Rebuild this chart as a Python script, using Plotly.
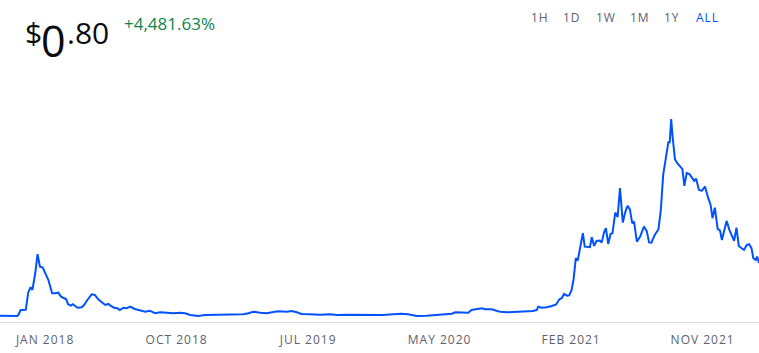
import pandas as pd
import plotly.graph_objects as go

# ---- data ----
start_date = "2017-10-11"
day_offsets = [
    0, 36, 39, 44, 50, 55, 60, 65, 69, 75, 80, 85, 91, 96, 103, 106, 111, 117, 124, 130,
    135, 141, 145, 151, 155, 160, 165, 174, 179, 186, 195, 202, 209, 217, 224, 231, 236, 243, 250, 255,
    263, 270, 277, 287, 298, 309, 319, 330, 341, 355, 369, 383, 394, 405, 422, 436, 461, 490, 518, 529,
    539, 554, 568, 582, 593, 610, 621, 632, 642, 660, 681, 703, 717, 738, 766, 788, 816, 837, 855, 869,
    887, 908, 930, 951, 962, 969, 983, 997, 1004, 1018, 1026, 1033, 1047, 1057, 1065, 1079, 1093, 1107, 1121, 1135,
    1143, 1146, 1153, 1164, 1175, 1184, 1191, 1196, 1201, 1207, 1212, 1217, 1221, 1226, 1230, 1235, 1241, 1245, 1253, 1256,
    1260, 1265, 1270, 1277, 1281, 1286, 1290, 1295, 1300, 1304, 1310, 1315, 1320, 1326, 1331, 1336, 1341, 1346, 1350, 1356,
    1363, 1371, 1377, 1382, 1387, 1394, 1402, 1407, 1412, 1418, 1423, 1426, 1429, 1432, 1437, 1442, 1449, 1453, 1457, 1462,
    1468, 1473, 1478, 1482, 1488, 1494, 1501, 1508, 1513, 1517, 1522, 1528, 1533, 1537, 1541, 1547, 1553, 1558, 1563, 1568,
    1573, 1579, 1584, 1590, 1595, 1600, 1604, 1609, 1612, 1616,
]
prices = [
    0.022, 0.018, 0.032, 0.106, 0.106, 0.111, 0.362, 0.442, 0.402, 0.648, 0.929, 0.746, 0.731, 0.657, 0.549, 0.476, 0.353, 0.353, 0.362, 0.303,
    0.288, 0.264, 0.191, 0.170, 0.191, 0.170, 0.140, 0.146, 0.180, 0.254, 0.338, 0.328, 0.264, 0.220, 0.180, 0.195, 0.165, 0.140, 0.131, 0.106,
    0.140, 0.131, 0.155, 0.121, 0.106, 0.081, 0.096, 0.058, 0.072, 0.066, 0.058, 0.066, 0.058, 0.032, 0.018, 0.032, 0.032, 0.032, 0.043, 0.058,
    0.081, 0.066, 0.058, 0.077, 0.087, 0.081, 0.092, 0.072, 0.047, 0.043, 0.037, 0.043, 0.032, 0.037, 0.032, 0.028, 0.032, 0.043, 0.052, 0.043,
    0.018, 0.022, 0.037, 0.047, 0.052, 0.072, 0.066, 0.066, 0.106, 0.117, 0.131, 0.117, 0.117, 0.096, 0.081, 0.072, 0.077, 0.081, 0.081, 0.092,
    0.106, 0.155, 0.140, 0.146, 0.165, 0.188, 0.264, 0.279, 0.343, 0.318, 0.323, 0.402, 0.549, 0.870, 0.835, 1.018, 1.239, 1.041, 1.032, 1.032,
    1.180, 1.052, 1.125, 1.130, 1.100, 1.248, 1.313, 1.081, 1.229, 1.239, 1.544, 1.476, 1.904, 1.396, 1.544, 1.643, 1.594, 1.387, 1.411, 1.115,
    1.189, 1.337, 1.270, 1.103, 1.100, 1.214, 1.298, 1.583, 2.100, 2.371, 2.583, 2.583, 2.923, 2.666, 2.332, 2.273, 2.223, 2.185, 1.938, 2.126,
    2.111, 2.066, 2.012, 2.046, 1.879, 1.864, 1.928, 1.756, 1.657, 1.461, 1.617, 1.303, 1.278, 1.140, 1.239, 1.421, 1.288, 1.199, 1.125, 1.322,
    1.052, 1.018, 0.993, 1.066, 1.077, 1.018, 0.870, 0.845, 0.894, 0.801,
]
tick_dates = ["2018-01-15", "2018-10-22", "2019-07-29", "2020-05-04", "2021-02-08", "2021-11-15"]
tick_labels = ["JAN 2018", "OCT 2018", "JUL 2019", "MAY 2020", "FEB 2021", "NOV 2021"]
range_buttons = ["1H", "1D", "1W", "1M", "1Y", "ALL"]
price_whole = "0"
price_cents = ".80"
change_text = "+4,481.63%"

dates = pd.to_datetime(start_date) + pd.to_timedelta(day_offsets, unit="D")

BLUE = "#0052ff"
GRAY = "#5b616e"
FONT = "Open Sans, Noto Sans, sans-serif"

fig = go.Figure()
fig.add_trace(go.Scatter(x=dates, y=prices, mode="lines",
                         line=dict(color=BLUE, width=2), hoverinfo="skip"))

W, H = 759, 353
top, bottom = 80, 31
ph = H - top - bottom

def py(p):
    return (H - bottom - p) / ph

annotations = [
    dict(text="$", x=23 / W, y=py(32.5), xanchor="left", yanchor="middle",
         font=dict(size=30, color="#0a0b0d", family=FONT)),
    dict(text=price_whole, x=39 / W, y=py(41), xanchor="left", yanchor="middle",
         font=dict(size=43, color="#0a0b0d", family=FONT)),
    dict(text=price_cents, x=65 / W, y=py(32.5), xanchor="left", yanchor="middle",
         font=dict(size=30, color="#0a0b0d", family=FONT)),
    dict(text=change_text, x=122 / W, y=py(23), xanchor="left", yanchor="middle",
         font=dict(size=17, color="#098551", family=FONT)),
]
btn_x = [540, 572, 606, 640, 672, 707.5]
for lbl, bx in zip(range_buttons, btn_x):
    annotations.append(dict(
        text=f"<span style='letter-spacing:1px'>{lbl}</span>", x=bx / W, y=py(18),
        xanchor="center", yanchor="middle",
        font=dict(size=12, color=BLUE if lbl == "ALL" else GRAY, family=FONT)))
for a in annotations:
    a.update(xref="paper", yref="paper", showarrow=False)

fig.update_layout(
    width=W, height=H,
    margin=dict(l=0, r=0, t=top, b=bottom),
    paper_bgcolor="white", plot_bgcolor="white",
    showlegend=False,
    annotations=annotations,
    xaxis=dict(
        range=[dates[0], dates[-1]],
        tickvals=pd.to_datetime(tick_dates),
        ticktext=[f"<span style='letter-spacing:1px'>{t}</span>" for t in tick_labels],
        showgrid=False, zeroline=False,
        showline=True, linecolor="#dcdcdc", linewidth=1,
        ticks="", ticklabelstandoff=7,
        tickfont=dict(size=12, color=GRAY, family=FONT),
    ),
    yaxis=dict(range=[-0.071, 3.50], visible=False, showgrid=False, zeroline=False),
)

fig.write_html("out.html")
